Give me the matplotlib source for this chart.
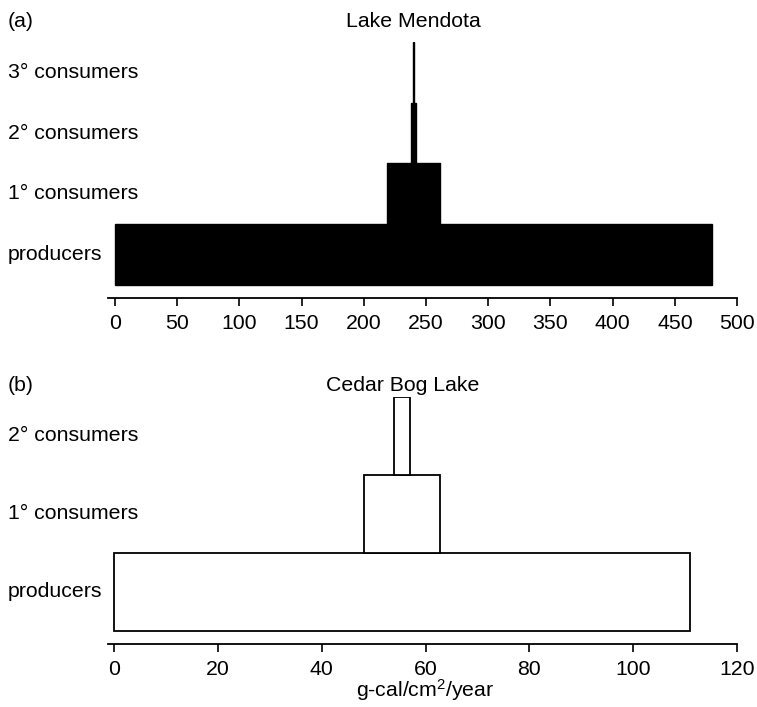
import numpy as np
import matplotlib
matplotlib.use('Agg')
import matplotlib.pyplot as plt
import matplotlib.transforms as mtransforms

plt.rcParams['font.family'] = ['Liberation Sans', 'DejaVu Sans']
plt.rcParams['mathtext.fontset'] = 'custom'
plt.rcParams['mathtext.rm'] = 'Liberation Sans'
plt.rcParams['mathtext.it'] = 'Liberation Sans:italic'
FS = 15.3
plt.rcParams['font.size'] = FS

# Lake Mendota (g-cal/cm2/year)
levels_a = ['producers', '1° consumers', '2° consumers', '3° consumers']
mendota = np.array([480, 42, 3.5, 0.3])
ticks_a = [0, 50, 100, 150, 200, 250, 300, 350, 400, 450, 500]

# Cedar Bog Lake
levels_b = ['producers', '1° consumers', '2° consumers']
cedar = np.array([111, 14.6, 3.0])
ticks_b = [0, 20, 40, 60, 80, 100, 120]

fig = plt.figure(figsize=(7.57, 7.07), dpi=100)
ax_a = fig.add_axes([0.1427, 0.5785, 0.8309, 0.3621])
ax_b = fig.add_axes([0.1427, 0.0891, 0.8309, 0.3494])


def style_axis(ax, ticks):
    for side in ['left', 'top', 'right']:
        ax.spines[side].set_visible(False)
    ax.spines['bottom'].set_linewidth(1.3)
    ax.set_yticks([])
    ax.set_xticks(ticks)
    ax.tick_params(axis='x', direction='out', length=5.8, width=1.2, pad=5.5, labelsize=FS)


def row_labels(ax, levels):
    trans = mtransforms.blended_transform_factory(fig.transFigure, ax.transData)
    for i, name in enumerate(levels):
        ax.text(8 / 757, i + 0.5, name, transform=trans, ha='left', va='center', fontsize=FS)


# (a) Lake Mendota
center_a = mendota[0] / 2
rows_a = np.arange(len(mendota))
ax_a.barh(rows_a + 0.5, mendota, left=center_a - mendota / 2, height=1,
          color='black', edgecolor='black', linewidth=1)
ax_a.set_xlim(-5.6, 500)
ax_a.set_ylim(-0.214, 4)
style_axis(ax_a, ticks_a)
row_labels(ax_a, levels_a)
ax_a.annotate('Lake Mendota', xy=(center_a, 4), xytext=(0, 11), textcoords='offset points',
              ha='center', va='baseline', fontsize=FS)
fig.text(8 / 757, (707 - 26.7) / 707, '(a)', ha='left', va='baseline', fontsize=FS)

# (b) Cedar Bog Lake
center_b = cedar[0] / 2
rows_b = np.arange(len(cedar))
ax_b.barh(rows_b + 0.5, cedar, left=center_b - cedar / 2, height=1,
          color='white', edgecolor='black', linewidth=1.3)
ax_b.set_xlim(-1.2, 120)
ax_b.set_ylim(-0.167, 3)
style_axis(ax_b, ticks_b)
row_labels(ax_b, levels_b)
ax_b.annotate('Cedar Bog Lake', xy=(center_b, 3), xytext=(0, 4.3), textcoords='offset points',
              ha='center', va='baseline', fontsize=FS)
fig.text(8 / 757, (707 - 391) / 707, '(b)', ha='left', va='baseline', fontsize=FS)

trans_x = mtransforms.blended_transform_factory(ax_b.transData, fig.transFigure)
ax_b.text(60, (707 - 696.7) / 707, r'g-cal/cm$^{\mathrm{2}}$/year', transform=trans_x,
          ha='center', va='baseline', fontsize=FS)

fig.savefig('out.png', dpi=100)
